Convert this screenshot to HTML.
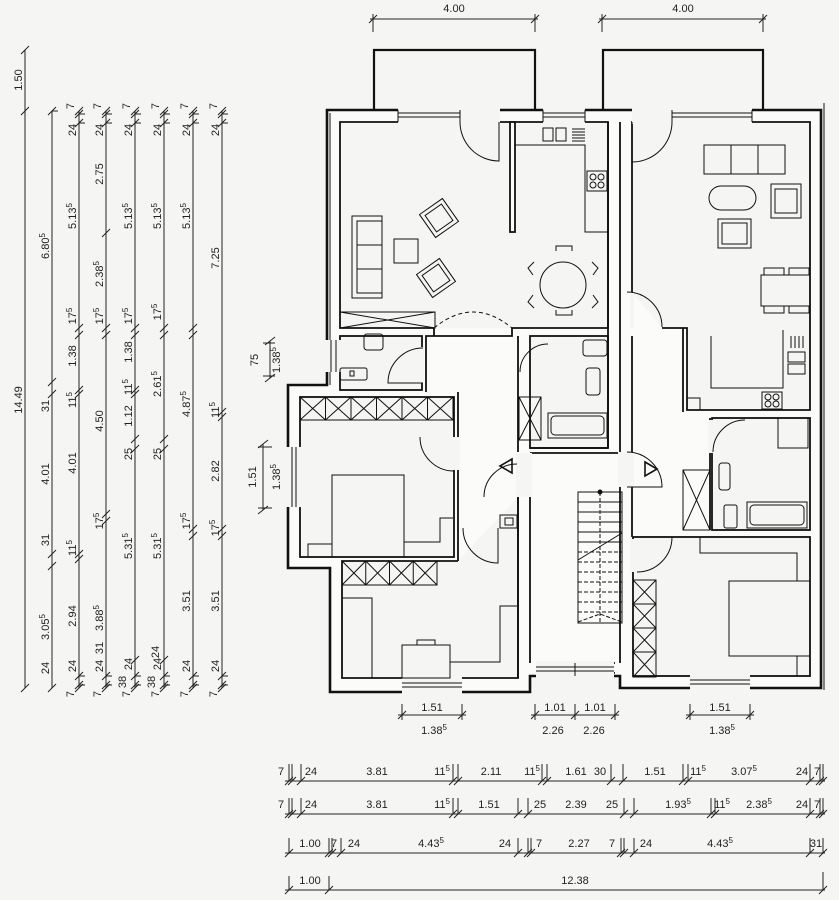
<!DOCTYPE html>
<html><head><meta charset="utf-8"><style>
html,body{margin:0;padding:0;background:#f5f5f3}
svg{display:block}
text{font-family:"Liberation Sans Narrow","Liberation Sans",sans-serif;font-size:11px;fill:#222}
</style></head><body>
<svg width="839" height="900" viewBox="0 0 839 900" xmlns="http://www.w3.org/2000/svg">
<rect width="839" height="900" fill="#f5f5f3"/>
<g stroke="#222" fill="none" stroke-width="1">
<!-- vertical dim lines -->
<line x1="25" y1="50" x2="25" y2="688"/>
<line x1="52" y1="111" x2="52" y2="688"/>
<line x1="79" y1="111" x2="79" y2="688"/>
<line x1="106" y1="111" x2="106" y2="688"/>
<line x1="135" y1="111" x2="135" y2="688"/>
<line x1="164" y1="111" x2="164" y2="688"/>
<line x1="193" y1="111" x2="193" y2="688"/>
<line x1="222" y1="111" x2="222" y2="688"/>
<path d="M21,54L29,46M21,115L29,107M21,692L29,684
M48,115L56,107M48,386L56,378M48,398L56,390M48,558L56,550M48,570L56,562M48,692L56,684
M75,115L83,107M75,118L83,110M75,127L83,119M75,332L83,324M75,339L83,331M75,394L83,386M75,398L83,390M75,558L83,550M75,563L83,555M75,680L83,672M75,689L83,681M75,692L83,684
M102,115L110,107M102,118L110,110M102,127L110,119M102,237L110,229M102,332L110,324M102,339L110,331M102,518L110,510M102,525L110,517M102,680L110,672M102,689L110,681M102,692L110,684
M131,115L139,107M131,118L139,110M131,127L139,119M131,332L139,324M131,339L139,331M131,394L139,386M131,398L139,390M131,443L139,435M131,453L139,445M131,664L139,656M131,680L139,672M131,689L139,681M131,692L139,684
M160,115L168,107M160,118L168,110M160,127L168,119M160,332L168,324M160,339L168,331M160,443L168,435M160,453L168,445M160,664L168,656M160,680L168,672M160,689L168,681M160,692L168,684
M189,115L197,107M189,118L197,110M189,127L197,119M189,332L197,324M189,339L197,331M189,533L197,525M189,540L197,532M189,680L197,672M189,689L197,681M189,692L197,684
M218,115L226,107M218,118L226,110M218,127L226,119M218,416L226,408M218,421L226,413M218,533L226,525M218,540L226,532M218,680L226,672M218,689L226,681M218,692L226,684"/>
<path d="M52,111H58M79,114H85M79,123H85M106,114H112M106,123H112M135,114H141M135,123H141M164,114H170M164,123H170M193,114H199M193,123H199M222,114H228M222,123H228M79,676H85M79,685H85M106,676H112M106,685H112M135,676H141M135,685H141M164,676H170M164,685H170M193,676H199M193,685H199M222,676H228M222,685H228"/>
<!-- top 4.00 dims -->
<line x1="370" y1="19" x2="538" y2="19"/><line x1="373" y1="14" x2="373" y2="32"/><line x1="535" y1="14" x2="535" y2="32"/>
<path d="M369,23L377,15M531,23L539,15"/>
<line x1="599" y1="19" x2="766" y2="19"/><line x1="602" y1="14" x2="602" y2="32"/><line x1="763" y1="14" x2="763" y2="32"/>
<path d="M598,23L606,15M759,23L767,15"/>
<!-- bottom rows -->
<line x1="285" y1="781" x2="825" y2="781"/>
<line x1="285" y1="814" x2="825" y2="814"/>
<line x1="285" y1="853" x2="825" y2="853"/>
<line x1="285" y1="890" x2="825" y2="890"/>
<path d="M285,785L293,777M288,785L296,777M297,785L305,777M449,785L457,777M454,785L462,777M538,785L546,777M543,785L551,777M607,785L615,777M619,785L627,777M679,785L687,777M684,785L692,777M806,785L814,777M816,785L824,777M819,785L827,777"/>
<path d="M289,764V781M292,764V781M301,764V781M453,764V781M458,764V781M542,764V781M547,764V781M611,764V781M623,764V781M683,764V781M688,764V781M810,764V781M820,764V781M823,764V781"/>
<path d="M285,818L293,810M288,818L296,810M297,818L305,810M449,818L457,810M454,818L462,810M514,818L522,810M524,818L532,810M620,818L628,810M630,818L638,810M707,818L715,810M711,818L719,810M806,818L814,810M816,818L824,810M819,818L827,810"/>
<path d="M289,798V814M292,798V814M301,798V814M453,798V814M458,798V814M518,798V814M528,798V814M624,798V814M634,798V814M711,798V814M715,798V814M810,798V814M820,798V814M823,798V814"/>
<path d="M285,857L293,849M325,857L333,849M328,857L336,849M337,857L345,849M514,857L522,849M524,857L532,849M527,857L535,849M617,857L625,849M620,857L628,849M630,857L638,849M806,857L814,849M819,857L827,849"/>
<path d="M289,838V853M329,838V853M332,838V853M341,838V853M518,838V853M528,838V853M531,838V853M621,838V853M624,838V853M634,838V853M810,838V853M823,838V853"/>
<path d="M285,894L293,886M325,894L333,886M819,894L827,886M289,876V890M329,876V890M823,872V890"/>
<!-- window dims below plan -->
<path d="M398,715H466M402,704V720M462,704V720M398,719L406,711M458,719L466,711"/>
<path d="M531,715H619M535,704V720M575,704V720M615,704V720M531,719L539,711M571,719L579,711M611,719L619,711"/>
<path d="M686,715H754M690,704V720M750,704V720M686,719L694,711M746,719L754,711"/>
<!-- small vertical dims left of plan -->
<path d="M270,341V378M265,345L275,337M265,382L275,374M263,343H275M263,376H275"/>
<path d="M263,444V510M258,448L268,440M258,514L268,506M258,447H272M258,508H272"/>
</g>

<!-- dimension texts vertical -->
<g text-anchor="middle">
<text transform="translate(22,80) rotate(-90)">1.50</text>
<text transform="translate(22,400) rotate(-90)">14.49</text>
<text transform="translate(49,246) rotate(-90)">6.80<tspan dy="-4" font-size="8">5</tspan></text>
<text transform="translate(49,406) rotate(-90)">31</text>
<text transform="translate(49,474) rotate(-90)">4.01</text>
<text transform="translate(49,540) rotate(-90)">31</text>
<text transform="translate(49,627) rotate(-90)">3.05<tspan dy="-4" font-size="8">5</tspan></text>
<text transform="translate(76,130) rotate(-90)">24</text>
<text transform="translate(76,216) rotate(-90)">5.13<tspan dy="-4" font-size="8">5</tspan></text>
<text transform="translate(76,316) rotate(-90)">17<tspan dy="-4" font-size="8">5</tspan></text>
<text transform="translate(76,356) rotate(-90)">1.38</text>
<text transform="translate(76,400) rotate(-90)">11<tspan dy="-4" font-size="8">5</tspan></text>
<text transform="translate(76,463) rotate(-90)">4.01</text>
<text transform="translate(76,548) rotate(-90)">11<tspan dy="-4" font-size="8">5</tspan></text>
<text transform="translate(76,616) rotate(-90)">2.94</text>
<text transform="translate(76,666) rotate(-90)">24</text>
<text transform="translate(103,130) rotate(-90)">24</text>
<text transform="translate(103,174) rotate(-90)">2.75</text>
<text transform="translate(103,274) rotate(-90)">2.38<tspan dy="-4" font-size="8">5</tspan></text>
<text transform="translate(103,316) rotate(-90)">17<tspan dy="-4" font-size="8">5</tspan></text>
<text transform="translate(103,421) rotate(-90)">4.50</text>
<text transform="translate(103,521) rotate(-90)">17<tspan dy="-4" font-size="8">5</tspan></text>
<text transform="translate(103,618) rotate(-90)">3.88<tspan dy="-4" font-size="8">5</tspan></text>
<text transform="translate(103,666) rotate(-90)">24</text>
<text transform="translate(132,130) rotate(-90)">24</text>
<text transform="translate(132,216) rotate(-90)">5.13<tspan dy="-4" font-size="8">5</tspan></text>
<text transform="translate(132,316) rotate(-90)">17<tspan dy="-4" font-size="8">5</tspan></text>
<text transform="translate(132,352) rotate(-90)">1.38</text>
<text transform="translate(132,387) rotate(-90)">11<tspan dy="-4" font-size="8">5</tspan></text>
<text transform="translate(132,416) rotate(-90)">1.12</text>
<text transform="translate(132,454) rotate(-90)">25</text>
<text transform="translate(132,546) rotate(-90)">5.31<tspan dy="-4" font-size="8">5</tspan></text>
<text transform="translate(132,664) rotate(-90)">24</text>
<text transform="translate(161,130) rotate(-90)">24</text>
<text transform="translate(161,216) rotate(-90)">5.13<tspan dy="-4" font-size="8">5</tspan></text>
<text transform="translate(161,312) rotate(-90)">17<tspan dy="-4" font-size="8">5</tspan></text>
<text transform="translate(161,384) rotate(-90)">2.61<tspan dy="-4" font-size="8">5</tspan></text>
<text transform="translate(161,454) rotate(-90)">25</text>
<text transform="translate(161,546) rotate(-90)">5.31<tspan dy="-4" font-size="8">5</tspan></text>
<text transform="translate(161,664) rotate(-90)">24</text>
<text transform="translate(190,130) rotate(-90)">24</text>
<text transform="translate(190,216) rotate(-90)">5.13<tspan dy="-4" font-size="8">5</tspan></text>
<text transform="translate(190,404) rotate(-90)">4.87<tspan dy="-4" font-size="8">5</tspan></text>
<text transform="translate(190,521) rotate(-90)">17<tspan dy="-4" font-size="8">5</tspan></text>
<text transform="translate(190,601) rotate(-90)">3.51</text>
<text transform="translate(190,666) rotate(-90)">24</text>
<text transform="translate(219,130) rotate(-90)">24</text>
<text transform="translate(219,258) rotate(-90)">7.25</text>
<text transform="translate(219,410) rotate(-90)">11<tspan dy="-4" font-size="8">5</tspan></text>
<text transform="translate(219,471) rotate(-90)">2.82</text>
<text transform="translate(219,528) rotate(-90)">17<tspan dy="-4" font-size="8">5</tspan></text>
<text transform="translate(219,601) rotate(-90)">3.51</text>
<text transform="translate(219,666) rotate(-90)">24</text>
<!-- 7s -->
<text transform="translate(74,106) rotate(-90)">7</text>
<text transform="translate(101,106) rotate(-90)">7</text>
<text transform="translate(130,106) rotate(-90)">7</text>
<text transform="translate(159,106) rotate(-90)">7</text>
<text transform="translate(188,106) rotate(-90)">7</text>
<text transform="translate(217,106) rotate(-90)">7</text>
<text transform="translate(74,694) rotate(-90)">7</text>
<text transform="translate(101,694) rotate(-90)">7</text>
<text transform="translate(130,694) rotate(-90)">7</text>
<text transform="translate(159,694) rotate(-90)">7</text>
<text transform="translate(188,694) rotate(-90)">7</text>
<text transform="translate(217,694) rotate(-90)">7</text>
<text transform="translate(49,668) rotate(-90)">24</text>
<text transform="translate(103,648) rotate(-90)">31</text>
<text transform="translate(126,682) rotate(-90)">38</text>
<text transform="translate(155,682) rotate(-90)">38</text>
<text transform="translate(159,652) rotate(-90)">24</text>
<!-- small dims near plan -->
<text transform="translate(258,360) rotate(-90)">75</text>
<text transform="translate(280,360) rotate(-90)">1.38<tspan dy="-4" font-size="8">5</tspan></text>
<text transform="translate(256,477) rotate(-90)">1.51</text>
<text transform="translate(280,477) rotate(-90)">1.38<tspan dy="-4" font-size="8">5</tspan></text>
</g>

<!-- horizontal texts -->
<g text-anchor="middle">
<text x="454" y="12">4.00</text>
<text x="683" y="12">4.00</text>
<text x="432" y="711">1.51</text>
<text x="434" y="734">1.38<tspan dy="-4" font-size="8">5</tspan></text>
<text x="555" y="711">1.01</text>
<text x="595" y="711">1.01</text>
<text x="553" y="734">2.26</text>
<text x="594" y="734">2.26</text>
<text x="720" y="711">1.51</text>
<text x="722" y="734">1.38<tspan dy="-4" font-size="8">5</tspan></text>

<text x="281" y="775">7</text><text x="311" y="775">24</text><text x="377" y="775">3.81</text>
<text x="442" y="775">11<tspan dy="-4" font-size="8">5</tspan></text><text x="491" y="775">2.11</text>
<text x="532" y="775">11<tspan dy="-4" font-size="8">5</tspan></text><text x="576" y="775">1.61</text><text x="600" y="775">30</text>
<text x="655" y="775">1.51</text><text x="698" y="775">11<tspan dy="-4" font-size="8">5</tspan></text>
<text x="744" y="775">3.07<tspan dy="-4" font-size="8">5</tspan></text><text x="802" y="775">24</text><text x="817" y="775">7</text>

<text x="281" y="808">7</text><text x="311" y="808">24</text><text x="377" y="808">3.81</text>
<text x="442" y="808">11<tspan dy="-4" font-size="8">5</tspan></text><text x="489" y="808">1.51</text>
<text x="540" y="808">25</text><text x="576" y="808">2.39</text><text x="612" y="808">25</text>
<text x="678" y="808">1.93<tspan dy="-4" font-size="8">5</tspan></text><text x="722" y="808">11<tspan dy="-4" font-size="8">5</tspan></text>
<text x="759" y="808">2.38<tspan dy="-4" font-size="8">5</tspan></text><text x="802" y="808">24</text><text x="817" y="808">7</text>

<text x="310" y="847">1.00</text><text x="334" y="847">7</text><text x="354" y="847">24</text>
<text x="431" y="847">4.43<tspan dy="-4" font-size="8">5</tspan></text><text x="505" y="847">24</text><text x="539" y="847">7</text>
<text x="579" y="847">2.27</text><text x="612" y="847">7</text><text x="646" y="847">24</text>
<text x="720" y="847">4.43<tspan dy="-4" font-size="8">5</tspan></text><text x="816" y="847">31</text>

<text x="310" y="884">1.00</text><text x="575" y="884">12.38</text>
</g>

<!-- PLAN -->
<g stroke="#111" fill="none">
<!-- balconies -->
<path d="M374,110V50H535V110M603,110V50H763V110" stroke-width="2.2"/>
<!-- outer boundary -->
<path d="M327,110H821V688H620V676H530V692H330V568H288V385H327Z" stroke-width="2.6" fill="#fbfbfa"/>
<line x1="824" y1="103" x2="824" y2="690" stroke-width="1"/>
<line x1="330" y1="113" x2="330" y2="385" stroke-width="1"/>
<!-- rooms -->
<g stroke-width="1.8" fill="#f5f5f3">
<path d="M434,328H340V122H608V328H512V328"/>
<rect x="340" y="336" width="82" height="54"/>
<rect x="300" y="397" width="154" height="160"/>
<path d="M458,561H342V678H518V497"/>
<rect x="530" y="336" width="78" height="112"/>
<path d="M632,292V122H810V410H687V328H662"/>
<rect x="712" y="418" width="98" height="112"/>
<rect x="633" y="537" width="177" height="139"/>
</g>
<g stroke-width="1.8">
<rect x="510" y="122" width="5" height="110" fill="#fbfbfa"/>
<path d="M434,328V336M512,328V336H426V392M458,392V561"/>
<path d="M518,336V452M518,497V678M530,453V663M530,453H620M620,470V663M530,448H608"/>
<path d="M620,122V452M632,336V452M632,487V537M683,328V412M710,418V530M608,122V448"/>
<path d="M540,663H615M540,673H615"/>
</g>
<!-- wall-fill gaps: windows -->
<g fill="#f5f5f3" stroke="none">
<rect x="398" y="108" width="62" height="16"/>
<rect x="543" y="108" width="42" height="16"/>
<rect x="672" y="108" width="80" height="16"/>
<rect x="460" y="108" width="40" height="16"/>
<rect x="632" y="108" width="40" height="16"/>
<rect x="325" y="340" width="17" height="32"/>
<rect x="286" y="447" width="16" height="60"/>
<rect x="402" y="676" width="60" height="18"/>
<rect x="536" y="661" width="78" height="17"/>
<rect x="690" y="674" width="60" height="16"/>
<rect x="452" y="437" width="8" height="33"/>
<rect x="516" y="453" width="16" height="44"/>
<rect x="618" y="452" width="16" height="35"/>
<rect x="630" y="292" width="4" height="36"/>
<rect x="708" y="420" width="5" height="33"/>
<rect x="630" y="539" width="5" height="33"/>
<rect x="419" y="347" width="5" height="36"/>
</g>
<g stroke-width="1">
<path d="M398,113H460M398,117H460M543,113H585M543,117H585M672,113H752M672,117H752"/>
<path d="M331,340V372M336,340V372M292,447V507M296,447V507"/>
<path d="M402,683H462M402,687H462M536,667H614M536,671H614M575,663V676M690,680H750M690,684H750"/>
<path d="M398,110V122M460,110V122M543,110V122M585,110V122M672,110V122M752,110V122"/>
<!-- doors -->
<path d="M460,122A39,39 0 0 0 499,161V122"/>
<path d="M672,122A40,40 0 0 1 632,162V122"/>
<path d="M423,348A35,35 0 0 0 388,383H423"/>
<path d="M420,437A34,34 0 0 0 454,471"/>
<path d="M463,528A35,35 0 0 0 498,563V528"/>
<path d="M484,497A33,33 0 0 1 517,464"/>
<path d="M627,452A35,35 0 0 1 662,487H627"/>
<path d="M627,292A35,35 0 0 1 662,327"/>
<path d="M713,452A32,32 0 0 1 745,420"/>
<path d="M672,537A35,35 0 0 1 637,572"/>
<path d="M520,372A28,28 0 0 1 548,344"/>
<path d="M434,328Q473,296 512,328" stroke-dasharray="4,3"/>
<path d="M512,459L500,466L512,473ZM645,462L657,469L645,476Z" stroke-width="1.6"/>
<!-- left living furniture -->
<rect x="352" y="216" width="30" height="82"/><rect x="357" y="221" width="25" height="72"/>
<path d="M357,245H382M357,269H382"/>
<rect x="394" y="239" width="24" height="24"/>
<g transform="rotate(-35 439 218)"><rect x="425" y="204" width="28" height="28"/><rect x="429" y="208" width="20" height="20"/></g>
<g transform="rotate(-35 436 278)"><rect x="422" y="264" width="28" height="28"/><rect x="426" y="268" width="20" height="20"/></g>
<rect x="340" y="312" width="95" height="16"/><path d="M340,312L435,328M340,328L435,312"/>
<!-- left kitchen -->
<path d="M515,145H585V232H608"/>
<rect x="543" y="128" width="10" height="13"/><rect x="556" y="128" width="10" height="13"/>
<path d="M572,129H585M572,132H585M572,135H585M572,138H585M572,141H585"/>
<rect x="587" y="171" width="20" height="20"/>
<circle cx="593" cy="177" r="3"/><circle cx="601" cy="177" r="3"/><circle cx="593" cy="185" r="3"/><circle cx="601" cy="185" r="3"/>
<circle cx="563" cy="285" r="23"/>
<path d="M556,251V246H572V251M556,310V315H572V310M534,262L528,268L533,275M534,308L528,302L533,295M592,262L598,268L593,275M592,308L598,302L593,295"/>
<!-- WC -->
<rect x="364" y="334" width="19" height="16" rx="3"/>
<rect x="340" y="368" width="27" height="12" rx="2"/><rect x="350" y="371" width="4" height="5"/>
<!-- center bath -->
<rect x="583" y="340" width="24" height="16" rx="3"/>
<rect x="586" y="368" width="14" height="27" rx="3"/>
<rect x="548" y="413" width="59" height="25"/><rect x="551" y="416" width="53" height="19" rx="4"/>
<rect x="519" y="397" width="22" height="43"/><path d="M519,397L541,440M541,397L519,440"/>
<!-- left bedroom -->
<rect x="300" y="397" width="153" height="23"/>
<path d="M300,397L325.5,420M325.5,397L300,420M325.5,397L351,420M351,397L325.5,420M351,397L376.5,420M376.5,397L351,420M376.5,397L402,420M402,397L376.5,420M402,397L427.5,420M427.5,397L402,420M427.5,397L453,420M453,397L427.5,420M325.5,397V420M351,397V420M376.5,397V420M402,397V420M427.5,397V420"/>
<rect x="332" y="475" width="72" height="82"/>
<path d="M308,557V544H332M404,542H440V518H453"/>
<!-- child room -->
<rect x="342" y="561" width="95" height="24"/>
<path d="M342,561L365.75,585M365.75,561L342,585M365.75,561L389.5,585M389.5,561L365.75,585M389.5,561L413.25,585M413.25,561L389.5,585M413.25,561L437,585M437,561L413.25,585M365.75,561V585M389.5,561V585M413.25,561V585"/>
<path d="M342,598H372V678"/>
<rect x="402" y="645" width="48" height="33"/><rect x="417" y="640" width="18" height="5"/>
<path d="M450,662H500V606H518"/>
<rect x="500" y="515" width="17" height="13"/><rect x="505" y="518" width="8" height="7"/>
<!-- stairs -->
<rect x="578" y="492" width="44" height="131"/>
<path d="M578,502H622M578,512H622M578,522H622M578,532H622M578,542H622"/>
<path d="M578,552H622M578,562H622M578,572H622M578,582H622M578,592H622M578,602H622M578,612H622M578,622L600,614L622,622M600,492V622" stroke-dasharray="4,2"/>
<path d="M578,560L622,533"/>
<circle cx="600" cy="492" r="2" fill="#111"/>
<!-- right living -->
<rect x="704" y="145" width="81" height="29"/><path d="M731,145V174M758,145V174"/>
<rect x="709" y="186" width="47" height="24" rx="12"/>
<rect x="771" y="184" width="30" height="34"/><rect x="775" y="189" width="22" height="24"/>
<rect x="718" y="219" width="33" height="29"/><rect x="722" y="223" width="25" height="21"/>
<rect x="761" y="275" width="49" height="31"/>
<rect x="764" y="268" width="20" height="7"/><rect x="789" y="268" width="20" height="7"/>
<rect x="764" y="306" width="20" height="7"/><rect x="789" y="306" width="20" height="7"/>
<!-- right kitchen -->
<path d="M711,336V388H783V330"/>
<rect x="687" y="398" width="13" height="12"/>
<rect x="762" y="392" width="20" height="17"/>
<circle cx="768" cy="397" r="3"/><circle cx="776" cy="397" r="3"/><circle cx="768" cy="404" r="3"/><circle cx="776" cy="404" r="3"/>
<rect x="788" y="352" width="17" height="10"/><rect x="788" y="364" width="17" height="10"/>
<path d="M791,336V348M795,336V348M799,336V348M803,336V348"/>
<!-- right bath -->
<rect x="778" y="418" width="30" height="30"/>
<rect x="719" y="463" width="11" height="27" rx="3"/>
<rect x="724" y="505" width="13" height="23" rx="2"/>
<rect x="747" y="502" width="60" height="26"/><rect x="750" y="505" width="54" height="20" rx="4"/>
<rect x="683" y="470" width="27" height="60"/><path d="M683,470L710,530M710,470L683,530"/>
<!-- right bedroom -->
<rect x="633" y="580" width="23" height="97"/>
<path d="M633,580L656,604M656,580L633,604M633,604L656,628M656,604L633,628M633,628L656,652M656,628L633,652M633,652L656,677M656,652L633,677M633,604H656M633,628H656M633,652H656"/>
<rect x="729" y="581" width="81" height="75"/>
<path d="M700,537V553H797V581M797,656V676"/>
</g>
</g>
</svg>
</body></html>
